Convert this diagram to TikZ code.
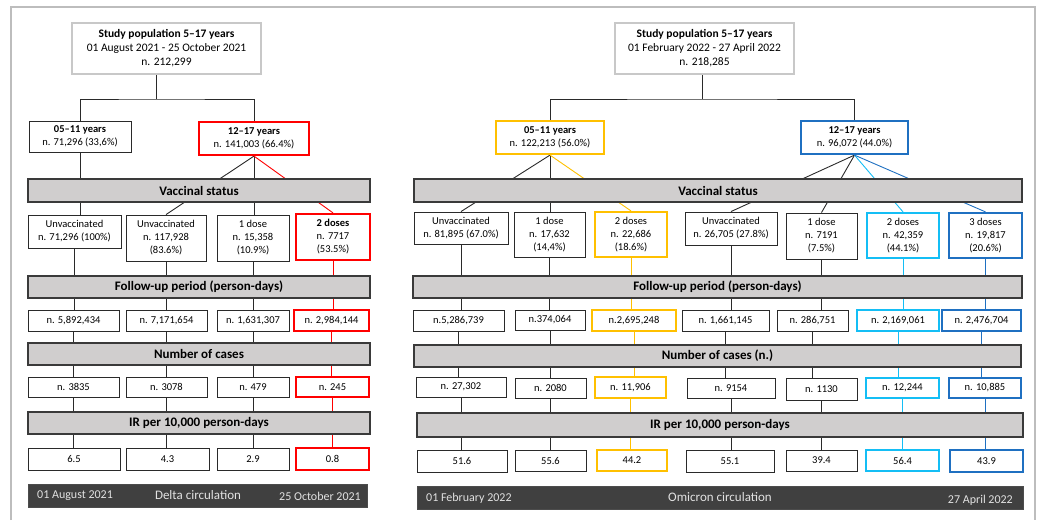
\documentclass[tikz,border=0pt]{standalone}
\usepackage{fontspec}
\setmainfont{Carlito}
\pgfdeclarelayer{background}
\pgfsetlayers{background,main}
\definecolor{cRed}{HTML}{FF0000}
\definecolor{cYel}{HTML}{FFC000}
\definecolor{cCyan}{HTML}{14BEF5}
\definecolor{cBlue}{HTML}{1F70C1}
\definecolor{cBar}{HTML}{D0CECE}
\definecolor{cBarLine}{HTML}{3A3A3A}
\definecolor{cDark}{HTML}{404040}
\definecolor{cDarkText}{HTML}{E2E2E2}
\definecolor{cTop}{HTML}{C8C8C8}
\definecolor{cFrame}{HTML}{BDBDBD}
\definecolor{cLine}{HTML}{2A2A2A}
\tikzset{
  box/.style={draw=cLine, line width=0.9pt, fill=white, inner sep=1pt, align=center,
    font=\fontsize{10.5}{13}\selectfont},
  topbox/.style={box, draw=cTop, line width=2pt, font=\fontsize{11.5}{14}\selectfont},
  hlred/.style={box, draw=cRed, line width=2.2pt},
  hlyel/.style={box, draw=cYel, line width=2.2pt},
  hlcyan/.style={box, draw=cCyan, line width=2.2pt},
  hlblue/.style={box, draw=cBlue, line width=2.2pt},
  bar/.style={draw=cBarLine, line width=1.2pt, fill=cBar, inner sep=0pt,
    font=\bfseries\fontsize{13}{15}\selectfont},
  darkbar/.style={draw=black!70, line width=1pt, fill=cDark, inner sep=0pt},
  datetxt/.style={text=cDarkText, inner sep=0pt, font=\fontsize{12}{14}\selectfont},
  titletxt/.style={text=cDarkText, inner sep=0pt, font=\fontsize{13}{15}\selectfont},
  conn/.style={draw=cLine, line width=0.9pt},
  cred/.style={draw=cRed, line width=0.9pt},
  cyel/.style={draw=cYel, line width=0.9pt},
  ccyan/.style={draw=cCyan, line width=0.9pt},
  cblue/.style={draw=cBlue, line width=0.9pt}
}
\newcommand\bx[7]{\node[#6, minimum width={(#4-#2)*1pt}, minimum height={(#5-#3)*1pt}] (#1) at ({(#2+#4)/2},{(#3+#5)/2}) {#7};}
\begin{document}
\begin{tikzpicture}[x=1pt,y=-1pt]
\useasboundingbox (0,0) rectangle (1040,520);
% ---------------- LEFT PANEL ----------------
\bx{ltop}{72}{23}{261}{74}{topbox}{\textbf{Study population 5–17 years}\\01 August 2021 - 25 October 2021\\n. 212,299}
\bx{la1}{29}{121}{131}{152}{box}{\textbf{05–11 years}\\n. 71,296 (33,6\%)}
\bx{la2}{199}{122}{309}{155}{hlred}{\textbf{12–17 years}\\n. 141,003 (66.4\%)}
\bx{lvs}{28}{179}{370}{202}{bar}{Vaccinal status}
\bx{lv1}{28}{215}{121}{248}{box}{Unvaccinated\\n. 71,296 (100\%)}
\bx{lv2}{126}{215}{206}{261}{box}{Unvaccinated\\n. 117,928\\(83.6\%)}
\bx{lv3}{217}{215}{289}{261}{box}{1 dose\\n. 15,358\\(10.9\%)}
\bx{lv4}{296}{214}{370}{260}{hlred}{\textbf{2 doses}\\n. 7717\\(53.5\%)}
\bx{lfb}{28}{276}{370}{298}{bar}{Follow-up period (person-days)}
\bx{lf1}{28}{310}{119}{331}{box}{n. 5,892,434}
\bx{lf2}{126}{310}{207}{331}{box}{n. 7,171,654}
\bx{lf3}{217}{310}{289}{331}{box}{n. 1,631,307}
\bx{lf4}{294}{310}{369}{331}{hlred}{n. 2,984,144}
\bx{lcb}{28}{343}{370}{365}{bar}{Number of cases}
\bx{lc1}{28}{377}{119}{397}{box}{n. 3835}
\bx{lc2}{126}{377}{207}{397}{box}{n. 3078}
\bx{lc3}{217}{377}{289}{397}{box}{n. 479}
\bx{lc4}{296}{377}{369}{397}{hlred}{n. 245}
\bx{lib}{28}{412}{370}{434}{bar}{IR per 10,000 person-days}
\bx{li1}{28}{448}{120}{470}{box}{6.5}
\bx{li2}{126}{448}{209}{470}{box}{4.3}
\bx{li3}{217}{448}{289}{470}{box}{2.9}
\bx{li4}{296}{448}{369}{470}{hlred}{0.8}
\bx{ldk}{28}{484}{367}{507}{darkbar}{}
\node[datetxt, anchor=west] (ld1) at (37,496) {01 August 2021};
\node[titletxt] (ld2) at (198,495) {Delta circulation};
\node[datetxt, anchor=east] (ld3) at (361,496) {25 October 2021};
% ---------------- RIGHT PANEL ----------------
\bx{rtop}{615}{23}{794}{74}{topbox}{\textbf{Study population 5–17 years}\\01 February 2022 - 27 April 2022\\n. 218,285}
\bx{ra1}{496}{121}{604}{154}{hlyel}{\textbf{05–11 years}\\n. 122,213 (56.0\%)}
\bx{ra2}{801}{121}{908}{154}{hlblue}{\textbf{12–17 years}\\n. 96,072 (44.0\%)}
\bx{rvs}{414}{179}{1022}{202}{bar}{Vaccinal status}
\bx{rv1}{414}{212}{508}{244}{box}{Unvaccinated\\n. 81,895 (67.0\%)}
\bx{rv2}{514}{212}{585}{257}{box}{1 dose\\n. 17,632\\(14,4\%)}
\bx{rv3}{595}{212}{667}{257}{hlyel}{2 doses\\n. 22,686\\(18.6\%)}
\bx{rv4}{685}{212}{777}{245}{box}{Unvaccinated\\n. 26,705 (27.8\%)}
\bx{rv5}{786}{213}{857}{259}{box}{1 dose\\n. 7191\\(7.5\%)}
\bx{rv6}{867}{213}{939}{258}{hlcyan}{2 doses\\n. 42,359\\(44.1\%)}
\bx{rv7}{949}{213}{1022}{258}{hlblue}{3 doses\\n. 19,817\\(20.6\%)}
\bx{rfb}{413}{276}{1022}{298}{bar}{Follow-up period (person-days)}
\bx{rf1}{413}{310}{504}{331}{box}{n.5,286,739}
\bx{rf2}{515}{310}{585}{330}{box}{n.374,064}
\bx{rf3}{592}{310}{676}{331}{hlyel}{n.2,695,248}
\bx{rf4}{682}{310}{769}{331}{box}{n. 1,661,145}
\bx{rf5}{777}{310}{848}{331}{box}{n. 286,751}
\bx{rf6}{857}{310}{939}{331}{hlcyan}{n. 2,169,061}
\bx{rf7}{942}{310}{1021}{331}{hlblue}{n. 2,476,704}
\bx{rcb}{414}{345}{1021}{367}{bar}{Number of cases (n.)}
\bx{rc1}{416}{377}{506}{397}{box}{n. 27,302}
\bx{rc2}{515}{378}{586}{398}{box}{n. 2080}
\bx{rc3}{595}{377}{666}{398}{hlyel}{n. 11,906}
\bx{rc4}{687}{378}{775}{398}{box}{n. 9154}
\bx{rc5}{786}{378}{857}{400}{box}{n. 1130}
\bx{rc6}{866}{378}{939}{398}{hlcyan}{n. 12,244}
\bx{rc7}{949}{378}{1021}{398}{hlblue}{n. 10,885}
\bx{rib}{417}{413}{1023}{437}{bar}{IR per 10,000 person-days}
\bx{ri1}{417}{450}{507}{472}{box}{51.6}
\bx{ri2}{515}{450}{586}{471}{box}{55.6}
\bx{ri3}{597}{450}{667}{471}{hlyel}{44.2}
\bx{ri4}{686}{450}{774}{472}{box}{55.1}
\bx{ri5}{786}{450}{857}{471}{box}{39.4}
\bx{ri6}{866}{450}{939}{471}{hlcyan}{56.4}
\bx{ri7}{950}{450}{1023}{472}{hlblue}{43.9}
\bx{rdk}{417}{486}{1023}{509}{darkbar}{}
\node[datetxt, anchor=west] (rd1) at (426,498) {01 February 2022};
\node[titletxt] (rd2) at (720,497) {Omicron circulation};
\node[datetxt, anchor=east] (rd3) at (1013,500) {27 April 2022};
% ---------------- CONNECTORS ----------------
\begin{pgfonlayer}{background}
\draw[cFrame, line width=1.2pt] (11,520) -- (11,7) -- (1035,7) -- (1035,520);
% left tree
\coordinate (lj) at (156,99);
\draw[conn] (lj |- ltop.south) -- (lj);
\draw[conn] (la1.north) |- (lj) -| (la2.north);
\draw[conn] (la1.south) -- (la1.south |- lv1.north);
\draw[conn] (la2.south) -- (lv2.north);
\draw[conn] (la2.south) -- (la2.south |- lv3.north);
\draw[cred] (la2.south) -- (lv4.north);
\foreach \a/\b/\s in {lv1/lf1/conn, lf1/lc1/conn, lc1/li1/conn,
                      lv2/lf2/conn, lf2/lc2/conn, lc2/li2/conn,
                      lv3/lf3/conn, lf3/lc3/conn, lc3/li3/conn,
                      lv4/lf4/cred, lf4/lc4/cred, lc4/li4/cred}
  \draw[\s] (\a.south) -- (\a.south |- \b.north);
% right tree
\coordinate (rj) at (702,99);
\draw[conn] (rj |- rtop.south) -- (rj);
\draw[conn] (ra1.north) |- (rj) -| (ra2.north);
\draw[conn] (ra1.south) -- (rv1.north);
\draw[conn] (ra1.south) -- (ra1.south |- rv2.north);
\draw[cyel] (ra1.south) -- (rv3.north);
\draw[conn] (ra2.south) -- (rv4.north);
\draw[conn] (ra2.south) -- (rv5.north);
\draw[ccyan] (ra2.south) -- (rv6.north);
\draw[cblue] (ra2.south) -- (rv7.north);
\foreach \i/\s in {1/conn,2/conn,3/cyel,4/conn,5/conn,6/ccyan,7/cblue} {
  \draw[\s] (rv\i.south) -- (rv\i.south |- rf\i.north);
  \draw[\s] (rf\i.south) -- (rf\i.south |- rc\i.north);
  \draw[\s] (rc\i.south) -- (rc\i.south |- ri\i.north);
}
\end{pgfonlayer}
\end{tikzpicture}
\end{document}
